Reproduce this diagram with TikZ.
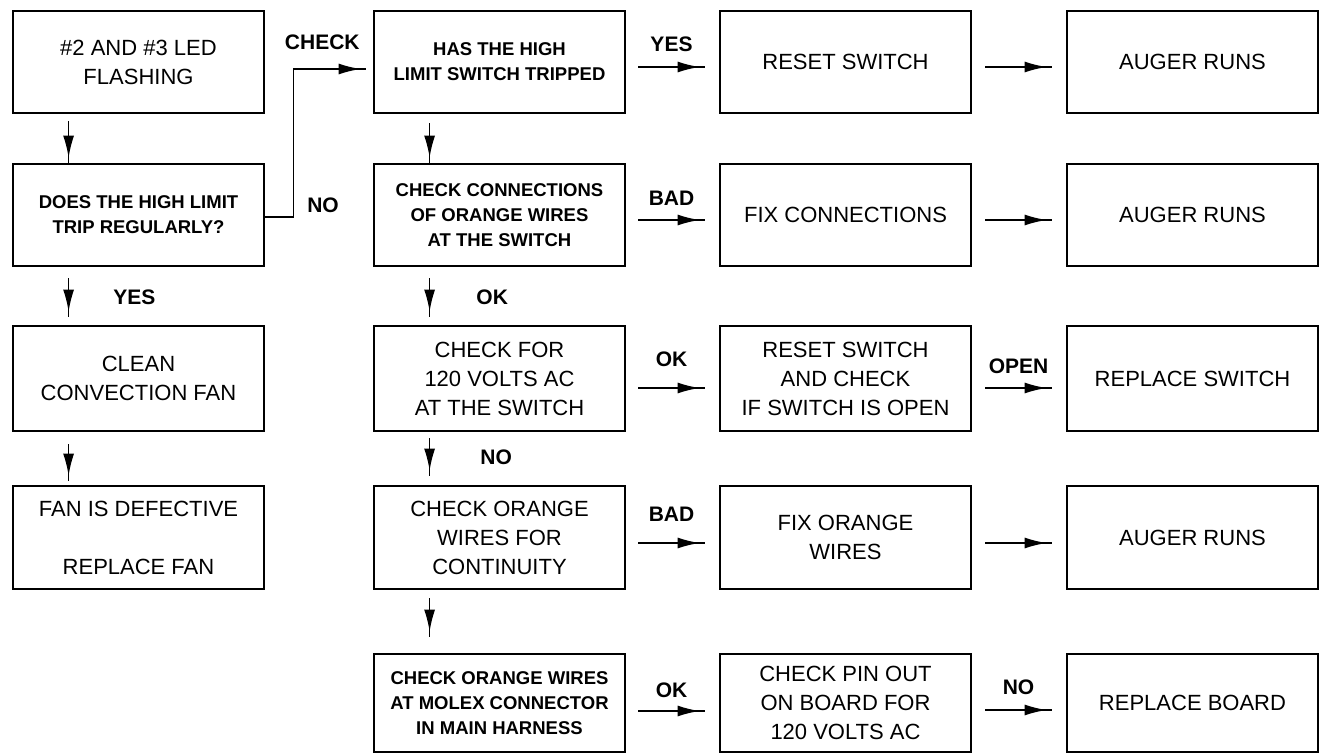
\documentclass[tikz,border=0pt]{standalone}
\usepackage{fontspec}
\setmainfont{Liberation Sans}
\usetikzlibrary{arrows.meta,decorations.markings,positioning}

\tikzset{
  box/.style={draw, line width=2.8pt, minimum width=251pt, minimum height=102pt,
    align=center, inner sep=0pt, font=\fontsize{22}{29}\selectfont},
  boxsmall/.style={box, font=\fontsize{18.5}{25}\selectfont\bfseries},
  lbl/.style={inner sep=0pt, font=\fontsize{21}{24}\selectfont\bfseries},
  flow/.style={line width=1.7pt, postaction={decorate},
    decoration={markings,
      mark=at position -5pt with {\arrow{Latex[length=22pt,width=11pt]}}}},
}

\begin{document}
\begin{tikzpicture}[x=1pt, y=-1pt]
  \path[use as bounding box, fill=white] (0,0) rectangle (1320,755);

  % first column
  \node[box]      (led)   at (138.5,62)  {\#2 AND \#3 LED\\FLASHING};
  \node[boxsmall] (trip)  at (138.5,215) {DOES THE HIGH LIMIT\\TRIP REGULARLY?};
  \node[box, minimum height=105pt] (clean) at (138.5,378.5) {CLEAN\\CONVECTION FAN};
  \node[box, minimum height=103pt] (fan) at (138.5,537.5) {FAN IS DEFECTIVE\\[29pt]REPLACE FAN};

  % second column
  \node[boxsmall] (tripped) at (499.5,62)  {HAS THE HIGH\\LIMIT SWITCH TRIPPED};
  \node[boxsmall] (conn)    at (499.5,215) {CHECK CONNECTIONS\\OF ORANGE WIRES\\AT THE SWITCH};
  \node[box, minimum height=105pt] (volts) at (499.5,378.5) {CHECK FOR\\120 VOLTS AC\\AT THE SWITCH};
  \node[box, minimum height=103pt] (cont)  at (499.5,537.5) {CHECK ORANGE\\WIRES FOR\\CONTINUITY};
  \node[boxsmall, minimum height=98pt] (molex) at (499.5,703) {CHECK ORANGE WIRES\\AT MOLEX CONNECTOR\\IN MAIN HARNESS};

  % third column
  \node[box] (reset)   at (845.5,62)  {RESET SWITCH};
  \node[box] (fixconn) at (845.5,215) {FIX CONNECTIONS};
  \node[box, minimum height=105pt] (resetchk) at (845.5,378.5) {RESET SWITCH\\AND CHECK\\IF SWITCH IS OPEN};
  \node[box, minimum height=103pt] (fixwires) at (845.5,537.5) {FIX ORANGE\\WIRES};
  \node[box, minimum height=98pt]  (pinout)   at (845.5,703)   {CHECK PIN OUT\\ON BOARD FOR\\120 VOLTS AC};

  % fourth column
  \node[box] (runsa)  at (1192.5,62)  {AUGER RUNS};
  \node[box] (runsb)  at (1192.5,215) {AUGER RUNS};
  \node[box, minimum height=105pt] (replsw) at (1192.5,378.5) {REPLACE SWITCH};
  \node[box, minimum height=103pt] (runsc)  at (1192.5,537.5) {AUGER RUNS};
  \node[box, minimum height=98pt]  (replbd) at (1192.5,703)   {REPLACE BOARD};

  % downward arrows
  \draw[flow] ([xshift=57pt,yshift=-7pt]led.south west) -- ([xshift=57pt]trip.north west);
  \draw[flow] ([xshift=57pt,yshift=-11pt]trip.south west) -- ([xshift=57pt,yshift=8pt]clean.north west)
    node[lbl, midway, right=44pt] {YES};
  \draw[flow] ([xshift=57pt,yshift=-12pt]clean.south west) -- ([xshift=57pt,yshift=4pt]fan.north west);
  \draw[flow] ([xshift=57pt,yshift=-9pt]tripped.south west) -- ([xshift=57pt]conn.north west);
  \draw[flow] ([xshift=57pt,yshift=-11pt]conn.south west) -- ([xshift=57pt,yshift=8pt]volts.north west)
    node[lbl, midway, right=46pt] {OK};
  \draw[flow] ([xshift=57pt,yshift=-6pt]volts.south west) -- ([xshift=57pt,yshift=9pt]cont.north west)
    node[lbl, midway, right=50pt] {NO};
  \draw[flow] ([xshift=57pt,yshift=-8pt]cont.south west) -- ([xshift=57pt,yshift=16pt]molex.north west);

  % the NO branch up to the second column
  \draw[flow] ([yshift=-2pt]trip.east) -- ++(28,0) node[lbl, anchor=south west, xshift=13pt, yshift=3pt] {NO}
    |- ([xshift=-7pt,yshift=-7pt]tripped.west) node[lbl, pos=0.7, above=18.5pt] {CHECK};

  % second to third column
  \draw[flow] ([xshift=12pt,yshift=-5pt]tripped.east) -- ([xshift=-14pt,yshift=-5pt]reset.west)
    node[lbl, midway, above=14.5pt] {YES};
  \draw[flow] ([xshift=12pt,yshift=-5pt]conn.east) -- ([xshift=-14pt,yshift=-5pt]fixconn.west)
    node[lbl, midway, above=13.5pt] {BAD};
  \draw[flow] ([xshift=12pt,yshift=-9.5pt]volts.east) -- ([xshift=-14pt,yshift=-9.5pt]resetchk.west)
    node[lbl, midway, above=20.5pt] {OK};
  \draw[flow] ([xshift=12pt,yshift=-5.5pt]cont.east) -- ([xshift=-14pt,yshift=-5.5pt]fixwires.west)
    node[lbl, midway, above=20.5pt] {BAD};
  \draw[flow] ([xshift=12pt,yshift=-8pt]molex.east) -- ([xshift=-14pt,yshift=-8pt]pinout.west)
    node[lbl, midway, above=12.5pt] {OK};

  % third to fourth column
  \draw[flow] ([xshift=13pt,yshift=-5pt]reset.east) -- ([xshift=-14pt,yshift=-5pt]runsa.west);
  \draw[flow] ([xshift=13pt,yshift=-5pt]fixconn.east) -- ([xshift=-14pt,yshift=-5pt]runsb.west);
  \draw[flow] ([xshift=13pt,yshift=-9.5pt]resetchk.east) -- ([xshift=-14pt,yshift=-9.5pt]replsw.west)
    node[lbl, midway, above=13.5pt] {OPEN};
  \draw[flow] ([xshift=13pt,yshift=-5.5pt]fixwires.east) -- ([xshift=-14pt,yshift=-5.5pt]runsc.west);
  \draw[flow] ([xshift=13pt,yshift=-7pt]pinout.east) -- ([xshift=-14pt,yshift=-7pt]replbd.west)
    node[lbl, midway, above=14.5pt] {NO};
\end{tikzpicture}
\end{document}
